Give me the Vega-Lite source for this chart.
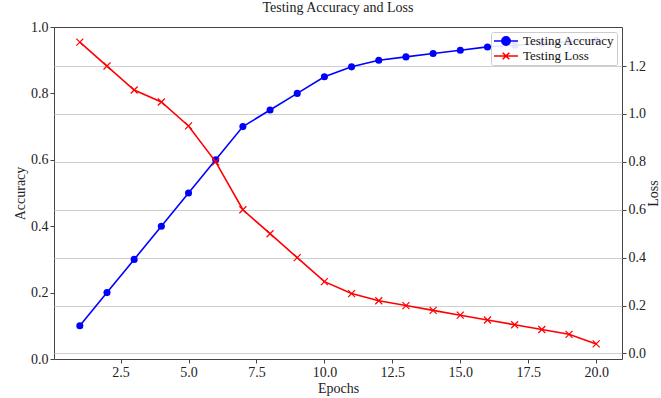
{
  "$schema": "https://vega.github.io/schema/vega-lite/v6.json",
  "width": 568,
  "height": 332,
  "autosize": {"type": "none"},
  "padding": {"left": 54, "top": 27, "right": 39, "bottom": 39},
  "background": "white",
  "title": {"text": "Testing Accuracy and Loss", "font": "Liberation Serif", "fontSize": 14, "fontWeight": "normal", "color": "#222", "offset": 5, "anchor": "middle"},
  "config": {
    "view": {"stroke": "#444", "strokeWidth": 1},
    "axis": {"labelFont": "Liberation Serif", "labelFontSize": 14, "labelColor": "#222", "titleFont": "Liberation Serif", "titleFontSize": 14, "titleFontWeight": "normal", "titleColor": "#222", "domain": false, "tickColor": "#444", "tickSize": 4, "labelPadding": 2, "grid": false}
  },
  "datasets": {
    "d": [
      {"epoch": 1, "accuracy": 0.10, "loss": 1.30},
      {"epoch": 2, "accuracy": 0.20, "loss": 1.20},
      {"epoch": 3, "accuracy": 0.30, "loss": 1.10},
      {"epoch": 4, "accuracy": 0.40, "loss": 1.05},
      {"epoch": 5, "accuracy": 0.50, "loss": 0.95},
      {"epoch": 6, "accuracy": 0.60, "loss": 0.80},
      {"epoch": 7, "accuracy": 0.70, "loss": 0.60},
      {"epoch": 8, "accuracy": 0.75, "loss": 0.50},
      {"epoch": 9, "accuracy": 0.80, "loss": 0.40},
      {"epoch": 10, "accuracy": 0.85, "loss": 0.30},
      {"epoch": 11, "accuracy": 0.88, "loss": 0.25},
      {"epoch": 12, "accuracy": 0.90, "loss": 0.22},
      {"epoch": 13, "accuracy": 0.91, "loss": 0.20},
      {"epoch": 14, "accuracy": 0.92, "loss": 0.18},
      {"epoch": 15, "accuracy": 0.93, "loss": 0.16},
      {"epoch": 16, "accuracy": 0.94, "loss": 0.14},
      {"epoch": 17, "accuracy": 0.945, "loss": 0.12},
      {"epoch": 18, "accuracy": 0.95, "loss": 0.10},
      {"epoch": 19, "accuracy": 0.955, "loss": 0.08},
      {"epoch": 20, "accuracy": 0.96, "loss": 0.04}
    ]
  },
  "data": {"name": "d"},
  "encoding": {
    "x": {"field": "epoch", "type": "quantitative", "scale": {"domain": [0.05, 20.95], "nice": false, "zero": false},
      "axis": {"values": [2.5, 5, 7.5, 10, 12.5, 15, 17.5, 20], "format": ".1f", "title": "Epochs", "titlePadding": 2}}
  },
  "layer": [
    {
      "encoding": {
        "y": {"field": "accuracy", "type": "quantitative", "scale": {"domain": [0, 1], "nice": false},
          "axis": {"orient": "left", "values": [0, 0.2, 0.4, 0.6, 0.8, 1.0], "format": ".1f", "title": "Accuracy", "titlePadding": 3}},
        "color": {"datum": "Testing Accuracy", "type": "nominal",
          "scale": {"domain": ["Testing Accuracy", "Testing Loss"], "range": ["#0000ff", "#ff0000"]},
          "legend": {"title": null, "orient": "top-right", "offset": 5, "labelFont": "Liberation Serif", "labelFontSize": 13, "labelColor": "#111",
            "fillColor": "rgba(255,255,255,0.9)", "strokeColor": "#ccc", "padding": 2, "cornerRadius": 2, "symbolSize": 144, "symbolStrokeWidth": 1.6,
            "symbolOffset": 6, "labelOffset": 10, "rowPadding": 0, "zindex": 1,
            "encode": {"symbols": {"update": {
              "shape": {"signal": "datum.value === 'Testing Accuracy' ? 'M-2,0L-0.7,0M0.7,0L2,0M-0.7,0A0.7,0.7 0 1,1 0.7,0A0.7,0.7 0 1,1 -0.7,0Z' : 'M-2,0L2,0M-0.55,-0.55L0.55,0.55M-0.55,0.55L0.55,-0.55'"},
              "fill": {"scale": "color", "field": "value"},
              "stroke": {"scale": "color", "field": "value"},
              "strokeWidth": {"value": 1.6},
              "opacity": {"value": 1}
            }}}}}
      },
      "layer": [
        {"mark": {"type": "line", "strokeWidth": 1.6}},
        {"mark": {"type": "point", "shape": "circle", "filled": true, "size": 50, "opacity": 1}}
      ]
    },
    {
      "encoding": {
        "y": {"field": "loss", "type": "quantitative", "scale": {"domain": [-0.023, 1.363], "nice": false, "zero": false},
          "axis": {"orient": "right", "values": [0, 0.2, 0.4, 0.6, 0.8, 1.0, 1.2], "format": ".1f", "title": "Loss", "titleAngle": 270, "titlePadding": 15,
            "grid": true, "gridColor": "#cfcfcf", "gridWidth": 1}},
        "color": {"datum": "Testing Loss", "type": "nominal"}
      },
      "layer": [
        {"mark": {"type": "line", "strokeWidth": 1.6}},
        {"mark": {"type": "point", "shape": "M-1,-1L1,1M-1,1L1,-1", "filled": false, "size": 49, "strokeWidth": 1.2, "opacity": 1}}
      ]
    }
  ],
  "resolve": {"scale": {"y": "independent"}}
}
